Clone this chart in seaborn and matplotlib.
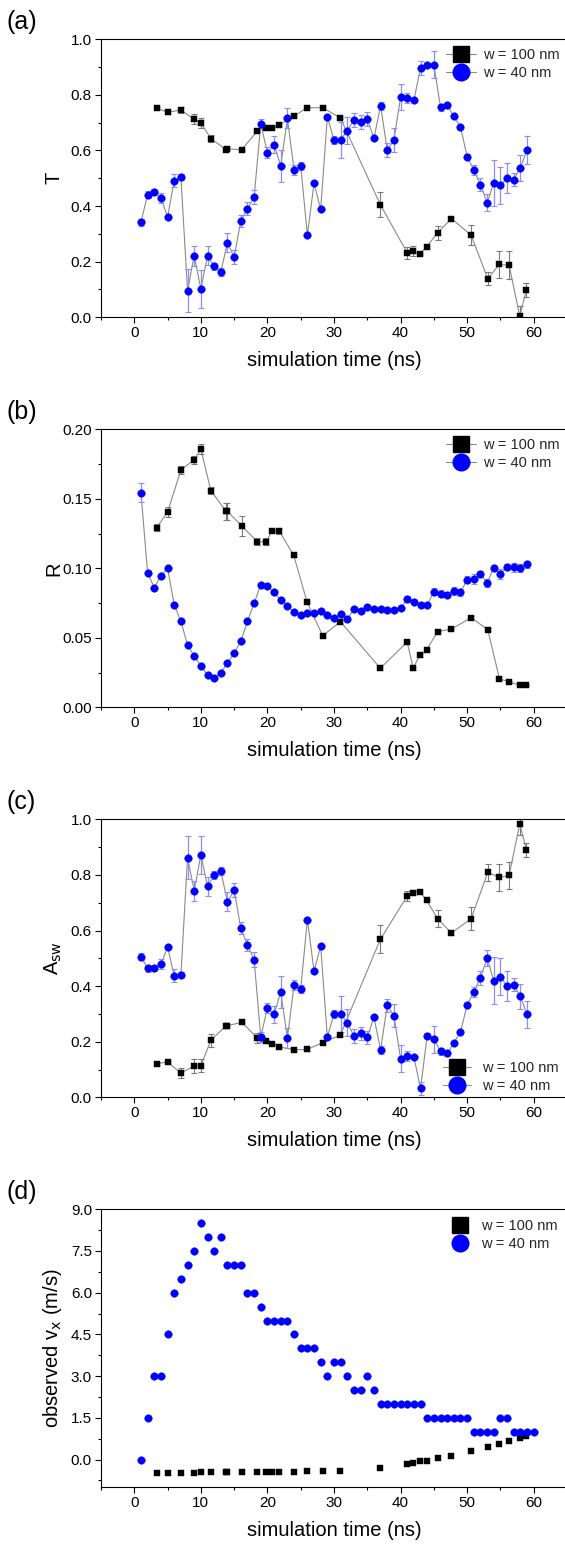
import numpy as np
import pandas as pd
import matplotlib
matplotlib.use("Agg")
import matplotlib.pyplot as plt
from matplotlib.lines import Line2D
from matplotlib.ticker import MultipleLocator, FormatStrFormatter
import seaborn as sns

# ---------------- data ----------------
x_blue = list(range(1, 60))
x_blue_v = list(range(1, 61))
x_black = [3.36, 5.0, 7.0, 9.0, 10.0, 11.5, 13.8, 14.0, 16.15, 18.5, 19.75, 20.75, 21.75, 23.95,
           25.95, 28.3, 30.96, 36.96, 41.0, 41.9, 42.85, 43.9, 45.55, 47.65, 50.6, 53.1, 54.85,
           56.3, 57.9, 58.9]

T_blue = [0.342, 0.441, 0.452, 0.429, 0.361, 0.491, 0.504, 0.096, 0.222, 0.102, 0.221, 0.183, 0.164,
          0.268, 0.217, 0.346, 0.391, 0.432, 0.695, 0.592, 0.621, 0.545, 0.716, 0.530, 0.545, 0.296,
          0.482, 0.388, 0.721, 0.638, 0.638, 0.671, 0.710, 0.703, 0.713, 0.644, 0.761, 0.602, 0.638,
          0.792, 0.789, 0.781, 0.897, 0.908, 0.909, 0.755, 0.762, 0.723, 0.685, 0.578, 0.530, 0.477,
          0.412, 0.483, 0.475, 0.502, 0.495, 0.538, 0.602]
TA_blue_err = [0.012, 0.012, 0.010, 0.018, 0.006, 0.024, 0.010, 0.078, 0.036, 0.068, 0.034, 0.014,
               0.014, 0.034, 0.024, 0.022, 0.022, 0.026, 0.018, 0.019, 0.030, 0.058, 0.036, 0.018,
               0.014, 0.004, 0.006, 0.004, 0.008, 0.014, 0.066, 0.048, 0.024, 0.024, 0.024, 0.008,
               0.014, 0.024, 0.042, 0.048, 0.018, 0.006, 0.024, 0.008, 0.048, 0.012, 0.008, 0.006,
               0.006, 0.008, 0.018, 0.024, 0.030, 0.084, 0.066, 0.054, 0.024, 0.046, 0.050]
R_blue = [0.1544, 0.0968, 0.0860, 0.0947, 0.1000, 0.0738, 0.0619, 0.0448, 0.0369, 0.0299, 0.0232,
          0.0211, 0.0249, 0.0319, 0.0391, 0.0475, 0.0619, 0.0750, 0.0880, 0.0873, 0.0827, 0.0772,
          0.0727, 0.0688, 0.0666, 0.0678, 0.0678, 0.0693, 0.0662, 0.0642, 0.0669, 0.0633, 0.0709,
          0.0691, 0.0719, 0.0707, 0.0707, 0.0700, 0.0702, 0.0712, 0.0781, 0.0758, 0.0734, 0.0739,
          0.0830, 0.0817, 0.0810, 0.0834, 0.0827, 0.0918, 0.0925, 0.0961, 0.0896, 0.1004, 0.0961,
          0.1011, 0.1006, 0.1004, 0.1029]
R_blue_err = [0.007] + [0.001] * 39 + [0.002, 0.001, 0.0015, 0.001, 0.0025, 0.0025, 0.002, 0.0028,
                                       0.0025, 0.0025, 0.0035, 0.002, 0.003, 0.002, 0.0035, 0.002,
                                       0.003, 0.003, 0.0025]
A_blue = [0.506, 0.464, 0.464, 0.478, 0.541, 0.437, 0.439, 0.862, 0.743, 0.872, 0.759, 0.799, 0.813,
          0.703, 0.746, 0.608, 0.549, 0.495, 0.217, 0.322, 0.298, 0.379, 0.213, 0.403, 0.390, 0.639,
          0.454, 0.544, 0.216, 0.300, 0.300, 0.268, 0.220, 0.230, 0.216, 0.288, 0.171, 0.331, 0.294,
          0.139, 0.149, 0.145, 0.032, 0.222, 0.209, 0.165, 0.158, 0.195, 0.235, 0.332, 0.379, 0.429,
          0.501, 0.419, 0.434, 0.399, 0.405, 0.363, 0.298]
v_blue = [0, 1.5, 3, 3, 4.5, 6, 6.5, 7, 7.5, 8.5, 8, 7.5, 8, 7, 7, 7, 6, 6, 5.5, 5, 5, 5, 5, 4.5, 4,
          4, 4, 3.5, 3, 3.5, 3.5, 3, 2.5, 2.5, 3, 2.5, 2, 2, 2, 2, 2, 2, 2, 1.5, 1.5, 1.5, 1.5, 1.5,
          1.5, 1.5, 1, 1, 1, 1, 1.5, 1.5, 1, 1, 1, 1]

T_black = [0.753, 0.737, 0.746, 0.712, 0.700, 0.643, 0.603, 0.606, 0.603, 0.671, 0.682, 0.682, 0.692,
           0.723, 0.754, 0.754, 0.717, 0.405, 0.232, 0.238, 0.227, 0.253, 0.304, 0.355, 0.295, 0.139,
           0.190, 0.187, 0.005, 0.098]
T_black_err = [0.004, 0.004, 0.012, 0.018, 0.018, 0.014, 0.006, 0.006, 0.004, 0.006, 0.004, 0.004,
               0.004, 0.004, 0.004, 0.004, 0.004, 0.046, 0.022, 0.018, 0.004, 0.004, 0.026, 0.006,
               0.036, 0.024, 0.050, 0.050, 0.036, 0.026]
R_black = [0.1292, 0.1405, 0.1707, 0.1781, 0.1858, 0.1558, 0.141, 0.141, 0.1304, 0.1191, 0.1191,
           0.127, 0.127, 0.1093, 0.0758, 0.0515, 0.0616, 0.0281, 0.047, 0.028, 0.0374, 0.0412,
           0.0544, 0.0563, 0.0645, 0.0558, 0.0206, 0.0182, 0.016, 0.016]
R_black_err = [0.0024, 0.0036, 0.003, 0.003, 0.0036, 0.0024, 0.006, 0.006, 0.0072, 0.0024, 0.0024,
               0.0012, 0.002] + [0.001] * 17
A_black = [0.121, 0.127, 0.0874, 0.1126, 0.1138, 0.205, 0.2576, 0.2576, 0.2698, 0.2133, 0.2025,
           0.193, 0.182, 0.171, 0.172, 0.1965, 0.224, 0.568, 0.724, 0.736, 0.740, 0.709, 0.643,
           0.591, 0.643, 0.809, 0.791, 0.798, 0.983, 0.890]
A_black_err = [0.004, 0.004, 0.018, 0.024, 0.024, 0.024, 0.006, 0.006, 0.004, 0.018, 0.004, 0.004,
               0.004, 0.004, 0.004, 0.004, 0.004, 0.050, 0.018, 0.010, 0.004, 0.004, 0.030, 0.006,
               0.040, 0.030, 0.050, 0.050, 0.038, 0.026]
v_black = [-0.48, -0.48, -0.47, -0.47, -0.46, -0.46, -0.46, -0.46, -0.46, -0.46, -0.45, -0.45, -0.45,
           -0.44, -0.42, -0.41, -0.41, -0.30, -0.16, -0.13, -0.07, -0.04, 0.05, 0.13, 0.30, 0.45,
           0.56, 0.67, 0.78, 0.85]

labels = ["w = 100 nm", "w = 40 nm"]
panel_tags = ["(a)", "(b)", "(c)", "(d)"]
ylabels = ["T", "R", r"A$_{\mathrm{sw}}$", r"observed v$_{\mathrm{x}}$ (m/s)"]
xlabel = "simulation time (ns)"

# ---------------- style ----------------
sns.set_theme(style="ticks")
plt.rcParams["font.family"] = ["Liberation Sans", "DejaVu Sans"]
plt.rcParams["mathtext.default"] = "regular"
plt.rcParams["axes.linewidth"] = 0.8

BLUE = "#0000ff"
BLACK = "#000000"
GRAY = "#8a8a8a"
BLUE_ERR = "#8c8cff"
BLACK_ERR = "#7a7a7a"

W, H = 565, 1545
fig = plt.figure(figsize=(W / 100, H / 100), dpi=100)

tops = [39.3, 429.3, 819.3, 1209.3]
ax_left, ax_right, ax_h = 101, 567, 278

panels = [
    dict(bx=x_black, by=T_black, be=T_black_err, cx=x_blue, cy=T_blue, ce=TA_blue_err,
         ylim=(0, 1.0), major=0.2, minor=0.1, fmt="%.1f", line=True, leg="upper"),
    dict(bx=x_black, by=R_black, be=R_black_err, cx=x_blue, cy=R_blue, ce=R_blue_err,
         ylim=(0, 0.2), major=0.05, minor=0.025, fmt="%.2f", line=True, leg="upper"),
    dict(bx=x_black, by=A_black, be=A_black_err, cx=x_blue, cy=A_blue, ce=TA_blue_err,
         ylim=(0, 1.0), major=0.2, minor=0.1, fmt="%.1f", line=True, leg="lower"),
    dict(bx=x_black, by=v_black, be=None, cx=x_blue_v, cy=v_blue, ce=None,
         ylim=(-1, 9), major=1.5, minor=0.75, fmt="%.1f", line=False, leg="plain"),
]

for i, p in enumerate(panels):
    t = tops[i]
    ax = fig.add_axes([ax_left / W, 1 - (t + ax_h) / H, (ax_right - ax_left) / W, ax_h / H])
    dfb = pd.DataFrame({"x": p["bx"], "y": p["by"]})
    dfc = pd.DataFrame({"x": p["cx"], "y": p["cy"]})

    if p["line"]:
        sns.lineplot(data=dfb, x="x", y="y", color=GRAY, lw=0.8, sort=False, estimator=None,
                     ax=ax, zorder=1)
        sns.lineplot(data=dfc, x="x", y="y", color=GRAY, lw=0.8, sort=False, estimator=None,
                     ax=ax, zorder=1)
        ax.errorbar(p["bx"], p["by"], yerr=p["be"], fmt="none", ecolor=BLACK_ERR, elinewidth=0.8,
                    capsize=2.2, capthick=0.8, zorder=2)
        ax.errorbar(p["cx"], p["cy"], yerr=p["ce"], fmt="none", ecolor=BLUE_ERR, elinewidth=0.9,
                    capsize=2.2, capthick=0.8, zorder=2)

    sns.scatterplot(data=dfb, x="x", y="y", marker="s", s=24, color=BLACK, edgecolor=BLACK,
                    linewidth=0.3, ax=ax, zorder=3)
    sns.scatterplot(data=dfc, x="x", y="y", marker="o", s=30, color=BLUE, edgecolor=BLUE,
                    linewidth=0.3, ax=ax, zorder=4)

    ax.set_xlim(-5, 65)
    ax.set_ylim(*p["ylim"])
    ax.xaxis.set_major_locator(MultipleLocator(10))
    ax.xaxis.set_minor_locator(MultipleLocator(5))
    ax.yaxis.set_major_locator(MultipleLocator(p["major"]))
    ax.yaxis.set_minor_locator(MultipleLocator(p["minor"]))
    ax.yaxis.set_major_formatter(FormatStrFormatter(p["fmt"]))
    ax.tick_params(which="major", direction="out", length=4, width=0.8, labelsize=11, pad=2.5,
                   color="black", labelcolor="black")
    ax.tick_params(which="minor", direction="out", length=2.5, width=0.8, color="black")
    ax.tick_params(top=False, right=False, which="both")
    for s in ["left", "bottom", "top"]:
        ax.spines[s].set_visible(True)
        ax.spines[s].set_color("black")
        ax.spines[s].set_linewidth(0.8)
    ax.spines["right"].set_visible(False)

    ax.set_xlabel(xlabel, fontsize=14.5, labelpad=8, color="black")
    ax.set_ylabel(ylabels[i], fontsize=14.5, color="black")
    ax.yaxis.set_label_coords(-0.08, 0.5)

    fig.text(6 / W, 1 - (t - 17.6) / H, panel_tags[i], fontsize=18, ha="left", va="center",
             color="black")

    # legend
    if p["leg"] == "plain":
        hs = [Line2D([], [], ls="none", marker="s", ms=11, mfc=BLACK, mec=BLACK),
              Line2D([], [], ls="none", marker="o", ms=12, mfc=BLUE, mec=BLUE)]
        anchor = (453 / W, 1 - (t + 10) / H)
        hl, htp = 1.0, 0.9
    else:
        hs = [Line2D([], [], color=GRAY, lw=0.8, marker="s", ms=11, mfc=BLACK, mec=BLACK),
              Line2D([], [], color=GRAY, lw=0.8, marker="o", ms=12, mfc=BLUE, mec=BLUE)]
        if p["leg"] == "upper":
            anchor = (446 / W, 1 - (t + 9) / H)
            hl, htp = 2.05, 0.5
        else:
            anchor = (443 / W, 1 - (t + 242) / H)
            hl, htp = 1.95, 0.7
    ax.legend(hs, labels, loc="upper left", bbox_to_anchor=anchor, bbox_transform=fig.transFigure,
              frameon=False, fontsize=10.5, handlelength=hl, handletextpad=htp, borderpad=0,
              borderaxespad=0, labelspacing=0.25)

fig.savefig("out.png", dpi=100)
